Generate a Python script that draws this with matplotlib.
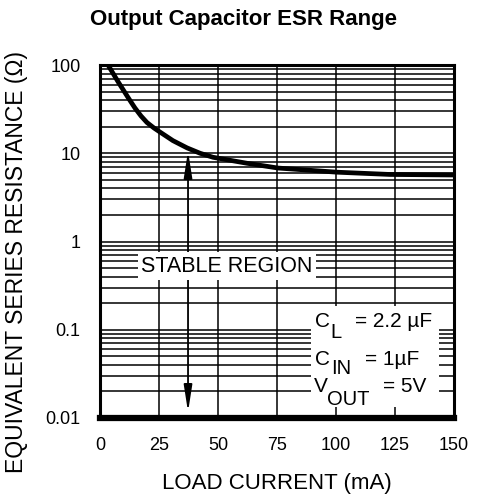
import matplotlib
matplotlib.use("Agg")
import matplotlib.pyplot as plt
from matplotlib.patches import Rectangle
from matplotlib.ticker import FixedLocator, LogLocator, NullFormatter

plt.rcParams['font.family'] = ['Liberation Sans', 'DejaVu Sans']

load_ma = [3.4, 7.6, 11.9, 14.8, 17.4, 19.9, 22.9, 25.4, 30.9, 36.9, 42.4, 47.9,
           62.3, 75.4, 100.4, 122.9, 150]
esr_ohm = [100, 65, 42.8, 32.6, 26.4, 22.3, 19.3, 17.4, 13.9, 11.5, 10.0, 9.0,
           7.7, 6.8, 6.1, 5.75, 5.67]

x_ticks = [0, 25, 50, 75, 100, 125, 150]
y_ticks = [0.01, 0.1, 1, 10, 100]
y_tick_labels = ['0.01', '0.1', '1', '10', '100']

arrow_x = 37.3
arrow_lo = 0.0117
arrow_hi = 10.6

W, H = 479, 497
fig = plt.figure(figsize=(W / 100, H / 100), dpi=100)
ax = fig.add_axes([100 / W, 1 - 418 / H, 354 / W, 353 / H])


def fpos(px, py):
    # pixel position -> figure fraction
    return px / W, 1 - py / H


ax.set_yscale('log')
ax.set_xlim(0, 150)
ax.set_ylim(0.01, 100)

ax.xaxis.set_major_locator(FixedLocator(x_ticks))
ax.yaxis.set_major_locator(FixedLocator(y_ticks))
ax.yaxis.set_minor_locator(LogLocator(base=10, subs=range(2, 10)))
ax.yaxis.set_minor_formatter(NullFormatter())
ax.set_yticklabels(y_tick_labels)

ax.grid(True, which='both', axis='y', color='black', lw=1.1, zorder=1)
ax.grid(True, which='major', axis='x', color='black', lw=1.1, zorder=1)
ax.set_axisbelow(True)

ax.tick_params(which='both', length=0)
ax.tick_params(axis='y', pad=14, labelsize=13)
ax.tick_params(axis='x', pad=14, labelsize=13)

for side in ['left', 'right', 'top']:
    ax.spines[side].set_linewidth(2.2)
ax.spines['bottom'].set_linewidth(4.5)

ax.plot(load_ma, esr_ohm, color='black', lw=3.4, solid_capstyle='butt',
        solid_joinstyle='round', zorder=3)

ax.annotate('', xy=(arrow_x, arrow_hi), xytext=(arrow_x, arrow_lo),
            arrowprops=dict(arrowstyle='<|-|>,head_length=1.6,head_width=0.25',
                            color='black', lw=1.3, shrinkA=0, shrinkB=0,
                            mutation_scale=10), zorder=3)

ax.text(53.8, 0.527, 'STABLE REGION', fontsize=15.5, ha='center', va='center',
        zorder=4, bbox=dict(facecolor='white', edgecolor='none', boxstyle='square,pad=0.15'))

# white block behind the conditions text
x0, y1 = fpos(311, 306)
x1, y0 = fpos(439, 407)
fig.patches.append(Rectangle((x0, y0), x1 - x0, y1 - y0, transform=fig.transFigure,
                             facecolor='white', edgecolor='none', zorder=5))

# (letter, subscript, rest, letter x, baseline, sub x, sub baseline, rest x)
cond = [
    ('C', 'L', '= 2.2 µF', 315, 327, 330, 338, 355),
    ('C', 'IN', '= 1µF', 315, 365, 331, 374, 365),
    ('V', 'OUT', '= 5V', 314, 392, 327, 405, 383),
]
for main, sub, rest, mx, mb, sx, sb, rx in cond:
    fig.text(*fpos(mx, mb), main, fontsize=15, ha='left', va='baseline', zorder=6)
    fig.text(*fpos(sx, sb), sub, fontsize=14.5, ha='left', va='baseline', zorder=6)
    fig.text(*fpos(rx, mb), rest, fontsize=15, ha='left', va='baseline', zorder=6)

ax.set_xlabel('LOAD CURRENT (mA)', fontsize=16, labelpad=13)
ax.set_ylabel('EQUIVALENT SERIES RESISTANCE (Ω)', fontsize=16.5)
ax.yaxis.set_label_coords(-72 / 354, (418 - 262) / 353)
fig.text(*fpos(243, 20), 'Output Capacitor ESR Range', fontsize=16, fontweight='bold',
         ha='center', va='center')

fig.savefig('out.png', dpi=100)
